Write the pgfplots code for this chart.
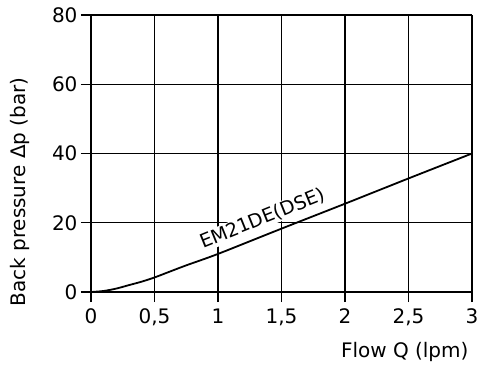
\documentclass[border=0pt]{standalone}
\usepackage{pgfplots}
\pgfplotsset{compat=1.18}
\usepackage{fontspec}
\setmainfont{DejaVu Sans}
\begin{document}
\begin{tikzpicture}
\begin{axis}[
  scale only axis,
  width=381pt, height=277pt,
  xmin=0, xmax=3, ymin=0, ymax=80,
  xtick={0,0.5,1,1.5,2,2.5,3},
  xticklabels={0,{0,5},1,{1,5},2,{2,5},3},
  ytick={0,20,40,60,80},
  axis lines=left,
  axis line style={-, line width=1.8pt},
  grid=major,
  grid style={black, line width=1.2pt},
  tick align=outside,
  major tick length=10pt,
  tick style={black, line width=1.2pt},
  font=\fontsize{20}{24}\selectfont,
  ticklabel style={font=\fontsize{20}{24}\selectfont},
  xticklabel style={yshift=-3pt},
  /pgf/number format/assume math mode=true,
  clip=false,
]
\addplot[black, line width=1.8pt, smooth] coordinates {
(0,0) (0.1,0.3) (0.2,1.0) (0.3,2.0) (0.4,3.0) (0.5,4.2) (0.6,5.6) (0.75,7.7) (1,11) (1.5,18.3) (2,25.5) (2.5,32.8) (3,40)
};
\node[fill=white, inner sep=1pt, rotate=22, font=\fontsize{19}{22}\selectfont] at (axis cs:1.35,21.2) {EM21DE(DSE)};
\node[rotate=90, anchor=center, font=\fontsize{20}{24}\selectfont] at (axis description cs:-0.186,0.361) {Back pressure Δp (bar)};
\node[anchor=east, font=\fontsize{20}{24}\selectfont] at (axis description cs:1,-0.217) {Flow Q (lpm)};
\end{axis}
\pgfresetboundingbox
\path (current axis.south west) ++(-91pt,-73pt) rectangle ++(483pt,365pt);
\end{tikzpicture}
\end{document}
